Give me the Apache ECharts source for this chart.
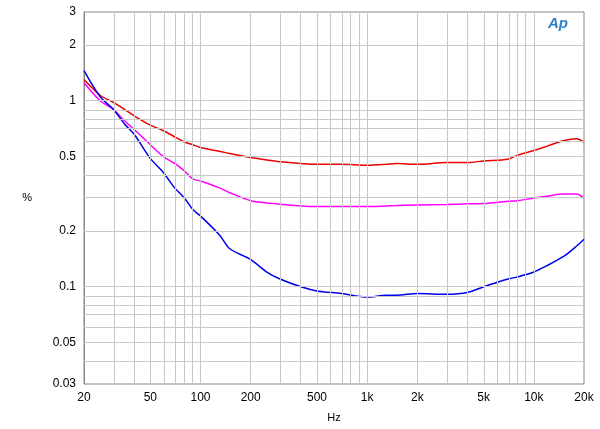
<!DOCTYPE html>
<html><head><meta charset="utf-8">
<script src="https://cdn.jsdelivr.net/npm/echarts@6/dist/echarts.min.js"></script>
<style>body{margin:0}#c{width:600px;height:429px}</style></head>
<body><div id="c"></div>
<script>
var freqs = [20,25,30,35,40,50,60,70,80,90,100,130,150,200,250,300,400,500,700,1000,1300,1500,2000,3000,4000,5000,7000,8000,10000,12000,15000,18000,20000];
var red =     [1.3,1.07,0.98,0.9,0.83,0.74,0.69,0.64,0.6,0.58,0.56,0.535,0.52,0.495,0.48,0.47,0.46,0.455,0.455,0.45,0.455,0.46,0.455,0.465,0.465,0.475,0.485,0.51,0.54,0.57,0.61,0.625,0.6];
var magenta = [1.25,1.0,0.9,0.78,0.7,0.58,0.5,0.46,0.42,0.38,0.37,0.34,0.32,0.29,0.282,0.278,0.272,0.27,0.27,0.27,0.272,0.273,0.275,0.277,0.279,0.28,0.288,0.29,0.3,0.307,0.315,0.315,0.3];
var blue =    [1.45,1.05,0.9,0.75,0.66,0.49,0.41,0.34,0.3,0.26,0.24,0.19,0.16,0.14,0.12,0.11,0.1,0.095,0.092,0.088,0.09,0.09,0.092,0.091,0.093,0.1,0.11,0.113,0.12,0.13,0.145,0.165,0.18];
var xTicks = [20,50,100,200,500,1000,2000,5000,10000,20000];
var xTickNames = ['20','50','100','200','500','1k','2k','5k','10k','20k'];
var yTicks = [0.03,0.05,0.1,0.2,0.5,1,2,3];
var xGrid = [30,40,60,70,80,90,300,400,600,700,800,900,3000,4000,6000,7000,8000,9000,50,100,200,500,1000,2000,5000,10000];
var yGrid = [0.04,0.06,0.07,0.08,0.09,0.3,0.4,0.6,0.7,0.8,0.9,0.05,0.1,0.2,0.5,1,2];
var L = Math.log10;
function pts(arr){ return freqs.map(function(f,i){ return [L(f), L(arr[i])]; }); }
function fmtY(v){ var r = Math.pow(10,v); return String(parseFloat(r.toPrecision(2))); }
var gridLines = xGrid.map(function(f){ return {xAxis: L(f)}; }).concat(yGrid.map(function(v){ return {yAxis: L(v)}; }));
var chart = echarts.init(document.getElementById('c'));
chart.setOption({
  animation: false,
  grid: {left: 84, right: 16, top: 12, bottom: 45},
  xAxis: {type: 'value', min: L(20), max: L(20000), name: 'Hz', nameLocation: 'middle', nameGap: 28,
    nameTextStyle: {color: '#000', fontSize: 11, fontFamily: 'Arial'},
    axisLine: {lineStyle: {color: '#888'}}, axisTick: {show: false}, splitLine: {show: false},
    axisLabel: {customValues: xTicks.map(L), color: '#000', fontSize: 12, fontFamily: 'Arial',
      formatter: function(v){ var i = xTicks.findIndex(function(t){ return Math.abs(L(t)-v) < 1e-6; }); return i >= 0 ? xTickNames[i] : ''; }}},
  yAxis: {type: 'value', min: L(0.03), max: L(3), name: '%', nameLocation: 'middle', nameGap: 52, nameRotate: 0,
    nameTextStyle: {color: '#000', fontSize: 11, fontFamily: 'Arial'},
    axisLine: {show: true, lineStyle: {color: '#888'}}, axisTick: {show: false}, splitLine: {show: false},
    axisLabel: {customValues: yTicks.map(L), color: '#000', fontSize: 12, fontFamily: 'Arial', formatter: fmtY}},
  graphic: [
    {type: 'rect', shape: {x: 84, y: 12, width: 500, height: 372}, style: {fill: 'none', stroke: '#888', lineWidth: 1}, z: 1},
    {type: 'text', left: 548, top: 16, style: {text: 'Ap', fill: '#2a7fc8', font: 'italic bold 15px Arial'}}
  ],
  series: [
    {type: 'line', data: [], silent: true, markLine: {symbol: 'none', silent: true, label: {show: false},
      lineStyle: {color: '#c8c8c8', width: 1, type: 'solid'}, data: gridLines}},
    {type: 'line', data: pts(red), showSymbol: false, smooth: 0.3, lineStyle: {color: '#ee0000', width: 1.5}, z: 3},
    {type: 'line', data: pts(magenta), showSymbol: false, smooth: 0.3, lineStyle: {color: '#ff00ff', width: 1.5}, z: 3},
    {type: 'line', data: pts(blue), showSymbol: false, smooth: 0.3, lineStyle: {color: '#0000ee', width: 1.5}, z: 3}
  ]
});
</script></body></html>
